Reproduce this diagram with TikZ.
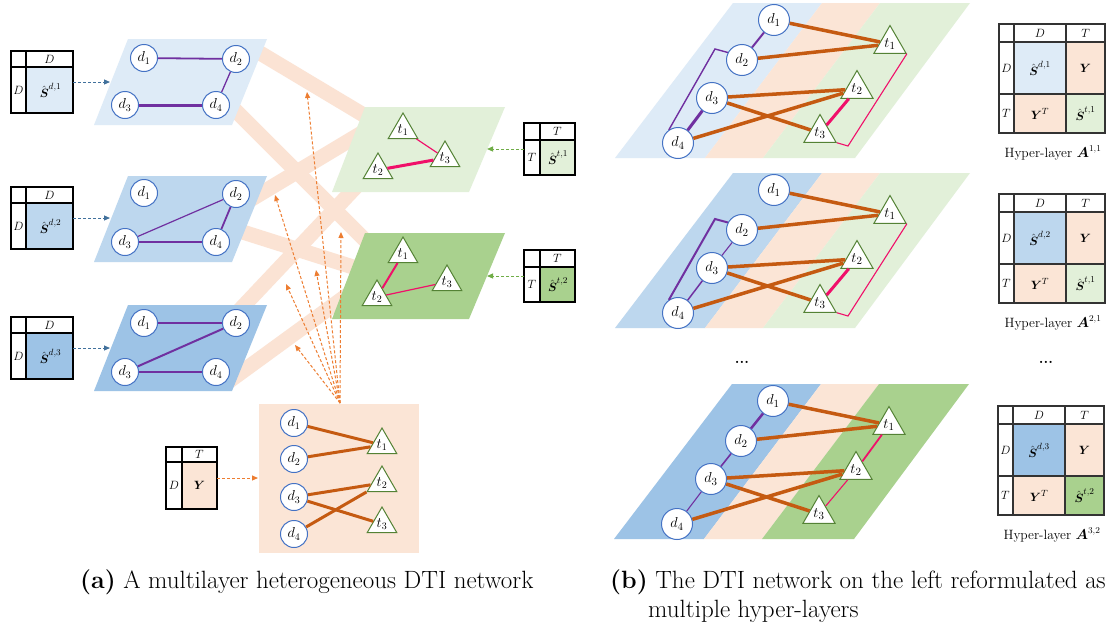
\documentclass[tikz,border=0pt]{standalone}
\usepackage{amsmath}
\usetikzlibrary{shapes.geometric,arrows.meta}
\definecolor{lblue}{HTML}{DEEBF7}
\definecolor{mblue}{HTML}{BDD7EE}
\definecolor{dblue}{HTML}{9DC3E6}
\definecolor{peach}{HTML}{FBE5D6}
\definecolor{bandc}{HTML}{FBE3D4}
\definecolor{lgreen}{HTML}{E2F0D9}
\definecolor{dgreen}{HTML}{A9D18E}
\definecolor{cblue}{HTML}{4472C4}
\definecolor{tgreen}{HTML}{548235}
\definecolor{purp}{HTML}{7030A0}
\definecolor{pinkline}{HTML}{F0106A}
\definecolor{ybrown}{HTML}{C55A11}
\definecolor{arrorange}{HTML}{ED7D31}
\definecolor{arrblue}{HTML}{41719C}
\definecolor{arrgreen}{HTML}{70AD47}
\tikzset{
 dn/.style={circle,draw=cblue,line width=1pt,fill=white,minimum size=27pt,inner sep=0pt,font=\fontsize{14}{15}\selectfont},
 dnb/.style={dn,minimum size=31pt,font=\fontsize{15}{16}\selectfont},
 tn/.style={regular polygon,regular polygon sides=3,draw=tgreen,line width=1pt,fill=white,minimum size=34pt,inner sep=0pt,font=\fontsize{14}{15}\selectfont},
 tnb/.style={tn,minimum size=37pt,font=\fontsize{15}{16}\selectfont},
 pe/.style={draw=purp,line width=#1},
 ke/.style={draw=pinkline,line width=#1},
 oe/.style={draw=ybrown,line width=3.5pt},
 bd/.style={draw=bandc,line width=15pt},
 darr/.style={dash pattern=on 3pt off 2pt,line width=1pt,-{Triangle[length=6pt,width=5pt]}},
 tabline/.style={draw=black,line width=1.2pt},
 gridl/.style={draw=black!80,line width=1.3pt},
 lbl/.style={font=\fontsize{12}{13}\selectfont,inner sep=0pt},
 cell/.style={font=\fontsize{13}{14}\selectfont,inner sep=0pt},
 capt/.style={font=\fontsize{13.5}{14}\selectfont,inner sep=0pt},
 bigcap/.style={font=\fontsize{25}{28}\selectfont,inner sep=0pt,anchor=base west},
}
\newcommand{\hyperlayer}[3]{%
 \fill[#2] (733,3) -- (822,3) -- (705,158) -- (615,158) -- cycle;
 \fill[peach] (822,3) -- (880,3) -- (763,158) -- (705,158) -- cycle;
 \fill[#3] (880,3) -- (970,3) -- (855,158) -- (763,158) -- cycle;
 \node[dnb] (#1d1) at (774,20) {$d_1$};
 \node[dnb] (#1d2) at (742,60) {$d_2$};
 \node[dnb] (#1d3) at (712,98) {$d_3$};
 \node[dnb] (#1d4) at (678,143) {$d_4$};
 \node[tnb] (#1t1) at (890,44) {$t_1$};
 \node[tnb] (#1t2) at (857,89) {$t_2$};
 \node[tnb] (#1t3) at (820,133) {$t_3$};
 \draw[oe] (#1d1) -- (#1t1);
 \draw[oe] (#1d2) -- (#1t1);
 \draw[oe] (#1d3) -- (#1t2);
 \draw[oe] (#1d3) -- (#1t3);
 \draw[oe] (#1d4) -- (#1t2);
}
\newcommand{\hyptab}[6]{%
 \fill[#1] (15,18) rectangle (67,70);
 \fill[peach] (67,18) rectangle (106,70);
 \fill[peach] (15,70) rectangle (67,109);
 \fill[#2] (67,70) rectangle (106,109);
 \draw[gridl] (0,0) rectangle (106,109);
 \draw[gridl] (0,18) -- (106,18) (0,70) -- (106,70) (15,0) -- (15,109) (67,0) -- (67,109);
 \node[lbl] (#6hd) at (41,9) {$D$};
 \node[lbl] (#6ht) at (86.5,9) {$T$};
 \node[lbl] (#6rd) at (7.5,44) {$D$};
 \node[lbl] (#6rt) at (7.5,89.5) {$T$};
 \node[cell] (#6sd) at (41,44) {$\hat{\boldsymbol{S}}^{d,#3}$};
 \node[cell] (#6y) at (86.5,44) {$\boldsymbol{Y}$};
 \node[cell] (#6yt) at (41,89.5) {$\boldsymbol{Y}^{T}$};
 \node[cell] (#6st) at (86.5,89.5) {$\hat{\boldsymbol{S}}^{t,#4}$};
 \node[capt] (#6cap) at (54,129) {Hyper-layer $\boldsymbol{A}^{#5}$};
}
\begin{document}
\begin{tikzpicture}[x=1pt,y=-1pt]
\useasboundingbox (0,0) rectangle (1112,632);
\clip (0,0) rectangle (1112,632);
\fill[white] (0,0) rectangle (1112,632);

% ---------- bands ----------
\draw[bd] (255,50) -- (372,120);
\draw[bd] (225,100) -- (370,245);
\draw[bd] (245,203) -- (375,125);
\draw[bd] (230,228) -- (372,273);
\draw[bd] (235,315) -- (370,172);
\draw[bd] (228,382) -- (368,280);

% ---------- layers (a) ----------
\fill[lblue] (128,39) -- (267,39) -- (232,125) -- (94,125) -- cycle;
\fill[mblue] (128,176) -- (267,176) -- (232,262) -- (94,262) -- cycle;
\fill[dblue] (128,305) -- (267,305) -- (232,391) -- (94,391) -- cycle;
\fill[lgreen] (365,107) -- (505,107) -- (469,192) -- (332,192) -- cycle;
\fill[dgreen] (365,233) -- (505,233) -- (469,319) -- (332,319) -- cycle;
\fill[peach] (259,404) rectangle (419,553);

% drug layer 1
\node[dn] (a1d1) at (144,58) {$d_1$};
\node[dn] (a1d2) at (236,59) {$d_2$};
\node[dn] (a1d3) at (125,105) {$d_3$};
\node[dn] (a1d4) at (216,105) {$d_4$};
\draw[pe=1.8pt] (a1d1) -- (a1d2);
\draw[pe=1.3pt] (a1d2) -- (a1d4);
\draw[pe=3pt] (a1d3) -- (a1d4);
% drug layer 2
\node[dn] (a2d1) at (144,193) {$d_1$};
\node[dn] (a2d2) at (236,194) {$d_2$};
\node[dn] (a2d3) at (125,242) {$d_3$};
\node[dn] (a2d4) at (216,242) {$d_4$};
\draw[pe=1.2pt] (a2d2) -- (a2d3);
\draw[pe=1.8pt] (a2d2) -- (a2d4);
\draw[pe=2pt] (a2d3) -- (a2d4);
% drug layer 3
\node[dn] (a3d1) at (144,323) {$d_1$};
\node[dn] (a3d2) at (236,323) {$d_2$};
\node[dn] (a3d3) at (125,372) {$d_3$};
\node[dn] (a3d4) at (216,372) {$d_4$};
\draw[pe=2.8pt] (a3d1) -- (a3d2);
\draw[pe=2pt] (a3d2) -- (a3d3);
\draw[pe=1.2pt] (a3d3) -- (a3d4);
% target layer 1
\node[tn] (b1t1) at (403,130) {$t_1$};
\node[tn] (b1t2) at (378,170) {$t_2$};
\node[tn] (b1t3) at (445,158) {$t_3$};
\draw[ke=1.2pt] (b1t1) -- (b1t3);
\draw[ke=3pt] (b1t2) -- (b1t3);
% target layer 2
\node[tn] (b2t1) at (403,254) {$t_1$};
\node[tn] (b2t2) at (377,297) {$t_2$};
\node[tn] (b2t3) at (447,282) {$t_3$};
\draw[ke=2pt] (b2t1) -- (b2t2);
\draw[ke=1.2pt] (b2t2) -- (b2t3);
% interaction layer
\node[dn] (yd1) at (294,423) {$d_1$};
\node[dn] (yd2) at (294,459) {$d_2$};
\node[dn] (yd3) at (294,497) {$d_3$};
\node[dn] (yd4) at (294,534) {$d_4$};
\node[tn] (yt1) at (382,445) {$t_1$};
\node[tn] (yt2) at (382,483) {$t_2$};
\node[tn] (yt3) at (382,524) {$t_3$};
\draw[oe,line width=3pt] (yd1) -- (yt1);
\draw[oe,line width=3pt] (yd2) -- (yt1);
\draw[oe,line width=3pt] (yd3) -- (yt2);
\draw[oe,line width=3pt] (yd3) -- (yt3);
\draw[oe,line width=3pt] (yd4) -- (yt2);

% ---------- tables (a) ----------
\begin{scope}[shift={(11,51)}]
 \fill[lblue] (15,16) rectangle (62,62);
 \draw[tabline] (0,0) rectangle (62,62) (0,16) -- (62,16) (15,0) -- (15,62);
 \node[lbl] (td1h) at (38.5,8) {$D$};
 \node[lbl] (td1r) at (7.5,39) {$D$};
 \node[cell] (td1c) at (39.5,39) {$\hat{\boldsymbol{S}}^{d,1}$};
 \coordinate (td1o) at (62,31);
\end{scope}
\begin{scope}[shift={(11,187)}]
 \fill[mblue] (15,16) rectangle (62,62);
 \draw[tabline] (0,0) rectangle (62,62) (0,16) -- (62,16) (15,0) -- (15,62);
 \node[lbl] (td2h) at (38.5,8) {$D$};
 \node[lbl] (td2r) at (7.5,39) {$D$};
 \node[cell] (td2c) at (39.5,39) {$\hat{\boldsymbol{S}}^{d,2}$};
 \coordinate (td2o) at (62,31);
\end{scope}
\begin{scope}[shift={(11,317)}]
 \fill[dblue] (15,16) rectangle (62,62);
 \draw[tabline] (0,0) rectangle (62,62) (0,16) -- (62,16) (15,0) -- (15,62);
 \node[lbl] (td3h) at (38.5,8) {$D$};
 \node[lbl] (td3r) at (7.5,39) {$D$};
 \node[cell] (td3c) at (39.5,39) {$\hat{\boldsymbol{S}}^{d,3}$};
 \coordinate (td3o) at (62,31);
\end{scope}
\begin{scope}[shift={(524,123)}]
 \fill[lgreen] (16,17) rectangle (51,52);
 \draw[tabline] (0,0) rectangle (51,52) (0,17) -- (51,17) (16,0) -- (16,52);
 \node[lbl] (tt1h) at (33.5,8.5) {$T$};
 \node[lbl] (tt1r) at (8,34.5) {$T$};
 \node[cell] (tt1c) at (34,34.5) {$\hat{\boldsymbol{S}}^{t,1}$};
 \coordinate (tt1o) at (0,26);
\end{scope}
\begin{scope}[shift={(524,250)}]
 \fill[dgreen] (16,17) rectangle (51,52);
 \draw[tabline] (0,0) rectangle (51,52) (0,17) -- (51,17) (16,0) -- (16,52);
 \node[lbl] (tt2h) at (33.5,8.5) {$T$};
 \node[lbl] (tt2r) at (8,34.5) {$T$};
 \node[cell] (tt2c) at (34,34.5) {$\hat{\boldsymbol{S}}^{t,2}$};
 \coordinate (tt2o) at (0,26);
\end{scope}
\begin{scope}[shift={(166,447)}]
 \fill[peach] (16,15) rectangle (51,62);
 \draw[tabline] (0,0) rectangle (51,62) (0,15) -- (51,15) (16,0) -- (16,62);
 \node[lbl] (tyh) at (33.5,7.5) {$T$};
 \node[lbl] (tyr) at (8,38.5) {$D$};
 \node[cell] (tyc) at (33.5,38.5) {$\boldsymbol{Y}$};
 \coordinate (tyo) at (51,31);
\end{scope}

% ---------- dashed arrows (a) ----------
\coordinate (l1in) at (110,82);
\coordinate (l2in) at (110,218);
\coordinate (l3in) at (110,348);
\coordinate (m1in) at (487,149);
\coordinate (m2in) at (487,276);
\coordinate (yin) at (258,478);
\draw[darr,arrblue] (td1o) -- (l1in);
\draw[darr,arrblue] (td2o) -- (l2in);
\draw[darr,arrblue] (td3o) -- (l3in);
\draw[darr,arrgreen] (tt1o) -- (m1in);
\draw[darr,arrgreen] (tt2o) -- (m2in);
\draw[darr,arrorange] (tyo) -- (yin);
\coordinate (ytop) at (340,403);
\coordinate (e1) at (307,92);
\coordinate (e2) at (275,195);
\coordinate (e3) at (286,284);
\coordinate (e4) at (316,270);
\coordinate (e5) at (341,232);
\coordinate (e6) at (295,345);
\foreach \e in {e1,e2,e3,e4,e5,e6}{\draw[darr,arrorange] (ytop) -- (\e);}

% ---------- hyper-layers (b) ----------
\begin{scope}
 \hyperlayer{h1}{lblue}{lgreen}
 \draw[pe=2pt] (h1d1) -- (h1d2);
 \draw[pe=3pt] (h1d3) -- (h1d4);
 \draw[pe=1.4pt] (h1d2.152) -- (715,49) -- (h1d4.125);
 \draw[ke=3pt] (h1t3) -- (h1t2);
 \draw[ke=1.1pt] (h1t1.corner 3) -- (848,146) -- (h1t3.corner 3);
\end{scope}
\begin{scope}[shift={(0,170)}]
 \hyperlayer{h2}{mblue}{lgreen}
 \draw[pe=1.1pt] (h2d2) -- (h2d3);
 \draw[pe=1.5pt] (h2d3) -- (h2d4);
 \draw[pe=2pt] (h2d2.152) -- (715,49) -- (h2d4.125);
 \draw[ke=3pt] (h2t3) -- (h2t2);
 \draw[ke=1.1pt] (h2t1.corner 3) -- (848,146) -- (h2t3.corner 3);
\end{scope}
\begin{scope}[shift={(-1,381)}]
 \hyperlayer{h3}{dblue}{dgreen}
 \draw[pe=2.5pt] (h3d1) -- (h3d2);
 \draw[pe=1.6pt] (h3d2) -- (h3d3);
 \draw[pe=1.1pt] (h3d3) -- (h3d4);
 \draw[ke=1.8pt] (h3t1) -- (h3t2);
 \draw[ke=1.1pt] (h3t2) -- (h3t3);
\end{scope}
\node[font=\fontsize{15}{15}\selectfont\bfseries] (dots1) at (742,362) {...};
\node[font=\fontsize{15}{15}\selectfont\bfseries] (dots2) at (1046,362) {...};

% ---------- hyper tables ----------
\begin{scope}[shift={(999,24)}]\hyptab{lblue}{lgreen}{1}{1}{1,1}{p1}\end{scope}
\begin{scope}[shift={(999,194)}]\hyptab{mblue}{lgreen}{2}{1}{2,1}{p2}\end{scope}
\begin{scope}[shift={(998,406)}]\hyptab{dblue}{dgreen}{3}{2}{3,2}{p3}\end{scope}

% ---------- captions ----------
\node[bigcap] (capa) at (80,588) {\textbf{(a)} A multilayer heterogeneous DTI network};
\node[bigcap] (capb) at (610,588) {\textbf{(b)} The DTI network on the left reformulated as};
\node[bigcap] (capb2) at (648,617) {multiple hyper-layers};
\end{tikzpicture}
\end{document}
